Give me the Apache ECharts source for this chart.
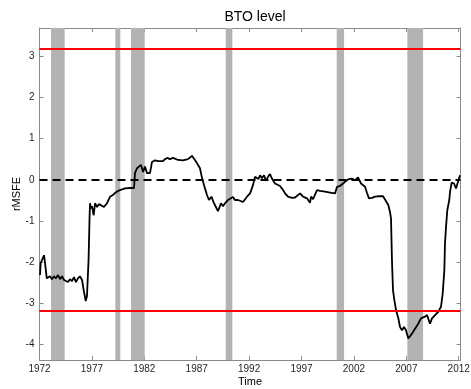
<!DOCTYPE html>
<html>
<head>
<meta charset="utf-8">
<title>BTO level</title>
<script src="https://cdn.jsdelivr.net/npm/echarts@6/dist/echarts.min.js"></script>
<style>
  html, body { margin: 0; padding: 0; background: #ffffff; }
  #chart { width: 471px; height: 389px; }
</style>
</head>
<body>
<div id="chart"></div>
<script>
// Observation time (decimal years) and the rMSFE statistic at each date
const obsTime = [
  1972.05, 1972.11, 1972.29, 1972.43, 1972.52, 1972.69, 1972.81, 1973.00, 1973.19, 1973.38,
  1973.57, 1973.77, 1973.96, 1974.15, 1974.34, 1974.53, 1974.72, 1974.91, 1975.10, 1975.29,
  1975.48, 1975.67, 1975.86, 1976.06, 1976.22, 1976.41, 1976.53, 1976.68, 1976.77, 1976.82,
  1976.91, 1977.01, 1977.17, 1977.30, 1977.49, 1977.68, 1977.87, 1978.15, 1978.44, 1978.73,
  1979.01, 1979.20, 1979.49, 1979.68, 1980.16, 1980.64, 1981.02, 1981.11, 1981.30, 1981.49,
  1981.69, 1981.88, 1982.07, 1982.26, 1982.54, 1982.73, 1983.02, 1983.31, 1983.50, 1983.78,
  1983.97, 1984.17, 1984.45, 1984.74, 1984.93, 1985.22, 1985.41, 1985.69, 1985.88, 1986.17,
  1986.36, 1986.55, 1986.83, 1987.03, 1987.31, 1987.51, 1987.70, 1987.98, 1988.17, 1988.41,
  1988.65, 1989.03, 1989.32, 1989.51, 1989.70, 1989.99, 1990.18, 1990.46, 1990.65, 1990.94,
  1991.13, 1991.42, 1991.61, 1991.80, 1992.09, 1992.37, 1992.56, 1992.75, 1992.90, 1993.04,
  1993.23, 1993.42, 1993.61, 1993.80, 1993.99, 1994.18, 1994.47, 1994.95, 1995.24, 1995.43,
  1995.71, 1996.09, 1996.38, 1996.57, 1996.86, 1997.14, 1997.33, 1997.52, 1997.81, 1997.91,
  1998.10, 1998.29, 1998.48, 1998.77, 1999.24, 1999.72, 2000.20, 2000.39, 2000.67, 2000.96,
  2001.15, 2001.44, 2001.79, 2002.11, 2002.39, 2002.68, 2002.87, 2003.06, 2003.25, 2003.44,
  2003.73, 2004.01, 2004.30, 2004.49, 2004.78, 2004.97, 2005.28, 2005.44, 2005.54, 2005.63,
  2005.73, 2005.86, 2006.02, 2006.24, 2006.40, 2006.59, 2006.78, 2006.97, 2007.19, 2007.35,
  2007.54, 2007.83, 2008.14, 2008.40, 2008.78, 2008.98, 2009.26, 2009.45, 2009.74, 2010.05,
  2010.31, 2010.47, 2010.63, 2010.69, 2010.79, 2010.91, 2011.10, 2011.17, 2011.33, 2011.55,
  2011.74, 2011.93, 2012.12
];
const rmsfe = [
  -2.31, -2.02, -2.02, -1.83, -2.00, -2.39, -2.43, -2.34, -2.41, -2.34,
  -2.39, -2.31, -2.41, -2.34, -2.43, -2.39, -2.48, -2.41, -2.46, -2.36,
  -2.48, -2.39, -2.34, -2.43, -2.68, -2.94, -2.82, -1.95, -0.98, -0.57,
  -0.69, -0.64, -0.86, -0.57, -0.66, -0.59, -0.58, -0.66, -0.57, -0.41,
  -0.37, -0.32, -0.27, -0.25, -0.21, -0.20, -0.20, 0.16, 0.28, 0.24,
  0.36, 0.19, 0.32, 0.16, 0.16, 0.43, 0.47, 0.45, 0.48, 0.45,
  0.50, 0.53, 0.50, 0.53, 0.50, 0.48, 0.45, 0.47, 0.48, 0.50,
  0.52, 0.58, 0.48, 0.40, 0.28, 0.04, -0.13, -0.37, -0.49, -0.41,
  -0.57, -0.76, -0.57, -0.64, -0.57, -0.49, -0.48, -0.42, -0.49, -0.49,
  -0.53, -0.54, -0.57, -0.41, -0.33, -0.13, 0.07, 0.11, 0.02, 0.11,
  0.04, 0.11, -0.02, 0.07, 0.14, 0.03, -0.09, -0.15, -0.25, -0.33,
  -0.41, -0.44, -0.43, -0.40, -0.33, -0.41, -0.43, -0.45, -0.56, -0.41,
  -0.47, -0.45, -0.25, -0.27, -0.29, -0.31, -0.33, -0.17, -0.15, -0.09,
  -0.05, 0.01, 0.03, -0.01, 0.06, -0.09, -0.05, -0.17, -0.32, -0.45,
  -0.44, -0.41, -0.40, -0.37, -0.40, -0.43, -0.61, -0.78, -0.94, -1.95,
  -2.68, -2.92, -3.16, -3.36, -3.57, -3.65, -3.57, -3.65, -3.85, -3.85,
  -3.73, -3.61, -3.49, -3.36, -3.32, -3.28, -3.49, -3.36, -3.28, -3.20,
  -3.08, -2.76, -2.19, -1.54, -1.14, -0.74, -0.49, -0.29, -0.07, -0.09,
  -0.21, -0.17, 0.11
];

// Shaded recession periods (start / end, decimal years)
const recessionStart = [1973.10, 1979.23, 1980.73, 1989.77, 2000.36, 2007.10];
const recessionEnd   = [1974.40, 1979.71, 1982.04, 1990.40, 2001.06, 2008.60];

// Critical value bands and the zero reference
const criticalValue = 3.18;
const zeroLevel = 0;

// Tick positions
const xTickYears = [1972, 1977, 1982, 1987, 1992, 1997, 2002, 2007, 2012];
const yTickValues = [-4, -3, -2, -1, 0, 1, 2, 3];

const X_MIN = 1972, X_MAX = 2012.17;
const Y_MIN = -4.37, Y_MAX = 3.68;

const FONT = '"Liberation Sans", Arial, Helvetica, sans-serif';
const AXIS_GREY = '#8a8a8a';
const TEXT_COLOR = '#262626';

function frameAxis(extra) {
  return Object.assign({
    type: 'value',
    axisLine: { show: true, onZero: false, lineStyle: { color: AXIS_GREY, width: 1 } },
    splitLine: { show: false },
    axisTick: { show: true, inside: true, length: 4, lineStyle: { color: AXIS_GREY, width: 1 } },
    axisLabel: { show: false }
  }, extra);
}

const seriesPoints = obsTime.map((t, i) => [t, rmsfe[i]]);
const bandAreas = recessionStart.map((s, i) => [{ xAxis: s }, { xAxis: recessionEnd[i] }]);

const chart = echarts.init(document.getElementById('chart'), null, { renderer: 'canvas' });

chart.setOption({
  animation: false,
  backgroundColor: '#ffffff',
  title: {
    text: 'BTO level',
    left: 250, top: 5, textAlign: 'center',
    textStyle: { fontFamily: FONT, fontSize: 14, fontWeight: 'normal', color: '#000000' }
  },
  grid: { left: 39.5, right: 10.5, top: 28, bottom: 29, containLabel: false, outerBoundsMode: 'none' },
  xAxis: [
    frameAxis({
      position: 'bottom', min: X_MIN, max: X_MAX,
      name: 'Time', nameLocation: 'middle', nameGap: 16, nameMoveOverlap: false,
      nameTextStyle: { fontFamily: FONT, fontSize: 11, color: '#000000' },
      axisTick: { show: true, inside: true, length: 4, customValues: xTickYears,
                  lineStyle: { color: AXIS_GREY, width: 1 } },
      axisLabel: { show: true, customValues: xTickYears, margin: 4,
                   fontFamily: FONT, fontSize: 10, color: TEXT_COLOR,
                   formatter: v => String(Math.round(v)) }
    }),
    frameAxis({
      position: 'top', min: X_MIN, max: X_MAX,
      axisTick: { show: true, inside: true, length: 4, customValues: xTickYears,
                  lineStyle: { color: AXIS_GREY, width: 1 } }
    })
  ],
  yAxis: [
    frameAxis({
      position: 'left', min: Y_MIN, max: Y_MAX,
      name: 'rMSFE', nameLocation: 'middle', nameGap: 17, nameRotate: 90, nameMoveOverlap: false,
      nameTextStyle: { fontFamily: FONT, fontSize: 11, color: '#000000' },
      axisTick: { show: true, inside: true, length: 4, customValues: yTickValues,
                  lineStyle: { color: AXIS_GREY, width: 1 } },
      axisLabel: { show: true, customValues: yTickValues, margin: 5,
                   fontFamily: FONT, fontSize: 10, color: TEXT_COLOR,
                   formatter: v => String(Math.round(v)) }
    }),
    frameAxis({
      position: 'right', min: Y_MIN, max: Y_MAX,
      axisTick: { show: true, inside: true, length: 4, customValues: yTickValues,
                  lineStyle: { color: AXIS_GREY, width: 1 } }
    })
  ],
  series: [
    {
      // recession shading
      name: 'recessions', type: 'line', data: [], silent: true, z: 1,
      markArea: {
        silent: true,
        itemStyle: { color: '#b3b3b3', opacity: 1 },
        data: bandAreas
      }
    },
    {
      // critical value lines
      name: 'critical', type: 'line', data: [], silent: true, z: 2,
      markLine: {
        silent: true, symbol: ['none', 'none'], label: { show: false },
        lineStyle: { color: '#ff0000', width: 2, type: 'solid' },
        data: [{ yAxis: criticalValue }, { yAxis: -criticalValue }]
      }
    },
    {
      // zero reference
      name: 'zero', type: 'line', data: [], silent: true, z: 3,
      markLine: {
        silent: true, symbol: ['none', 'none'], label: { show: false },
        lineStyle: { color: '#000000', width: 2, type: [8, 5] },
        data: [{ yAxis: zeroLevel }]
      }
    },
    {
      name: 'rMSFE', type: 'line', data: seriesPoints, z: 4,
      showSymbol: false, symbol: 'none', smooth: false,
      lineStyle: { color: '#000000', width: 1.8 }
    }
  ]
});
</script>
</body>
</html>
